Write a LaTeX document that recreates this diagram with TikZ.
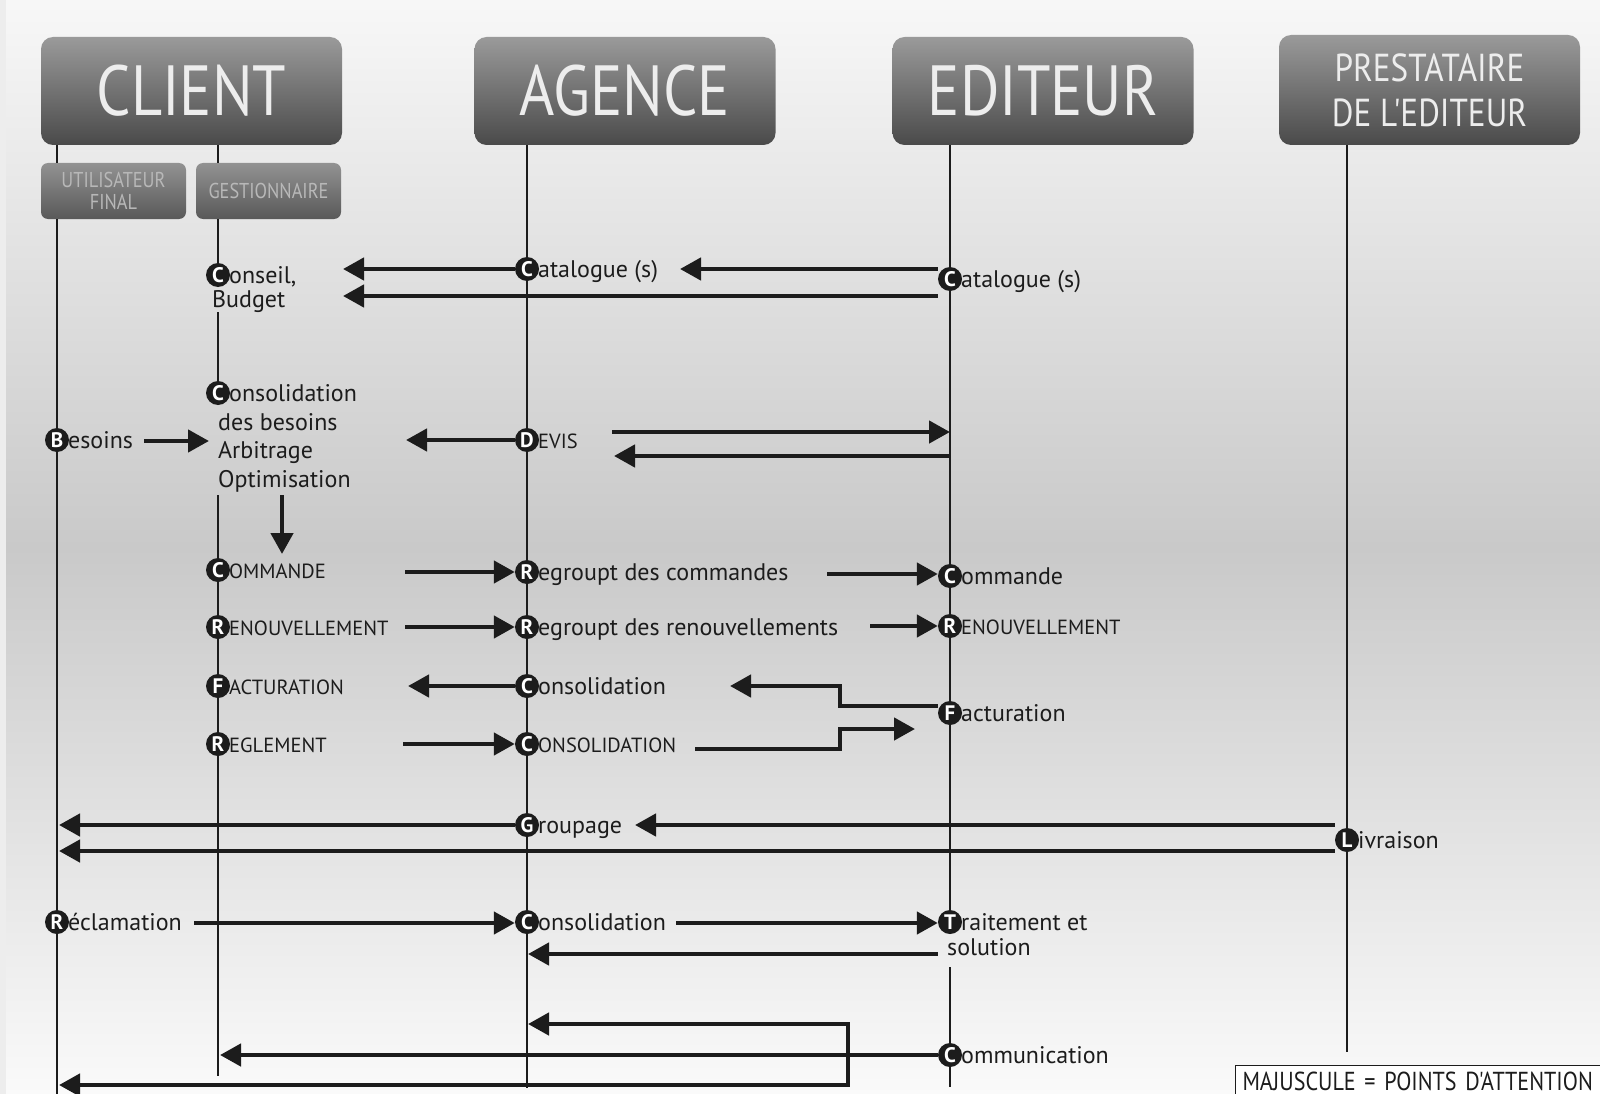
\documentclass[tikz,border=0pt]{standalone}
\usepackage{fontspec}
\setmainfont{PT Sans}
\newfontfamily\narrowfont[FakeStretch=0.85]{PT Sans}
\usetikzlibrary{calc,positioning,arrows.meta}

\definecolor{ink}{HTML}{1C1C1C}
\definecolor{boxtop}{HTML}{9A9A9A}
\definecolor{boxbot}{HTML}{4A4A4A}
\definecolor{bgmid}{HTML}{C9C9C9}

\tikzset{
  actor/.style={rounded corners=12pt, top color=boxtop, bottom color=boxbot,
    text=white!93!black, minimum width=301pt, minimum height=108pt,
    inner sep=0pt, align=center},
  role/.style={rounded corners=7pt, top color=boxtop!95!black, bottom color=boxbot!92!white,
    text=white!72!black, minimum width=145pt, minimum height=56pt,
    inner sep=0pt, align=center, font=\narrowfont\fontsize{21.5}{22}\selectfont},
  life/.style={draw=ink, line width=1.4pt},
  msg/.style={draw=ink, line width=4.5pt, >={Triangle[length=21pt,width=22pt]}, ->},
  dot/.style={circle, fill=ink, text=white, inner sep=0pt, minimum size=24pt,
    font=\bfseries\fontsize{21}{21}\selectfont},
  lbl/.style={anchor=base west, inner sep=0pt, text=ink,
    font=\fontsize{24}{28}\selectfont},
  caps/.style={lbl, font=\fontsize{20.5}{24}\selectfont},
  note/.style={draw=ink, line width=1pt, fill=white, anchor=north west,
    inner xsep=7pt, inner ysep=6pt, text height=19pt, text depth=12pt, text=ink,
    align=left, text width=386pt,
    font=\narrowfont\fontsize{26}{26}\selectfont}
}

% style, name, x, y, letter, rest of the word
\newcommand{\ev}[6]{%
  \node[dot] (#2) at (#3,#4) {#5};
  \node[#1] (#2l) at ($(#2)+(11,8)$) {#6};}

\begin{document}
\begin{tikzpicture}[x=1pt,y=-1pt]
\useasboundingbox (0,0) rectangle (1600,1094);
\clip (0,0) rectangle (1600,1094);
% background
\shade[top color=white!97!black, bottom color=white!98!black, middle color=bgmid]
  (0,0) rectangle (1600,1094);
\fill[white!93!black] (0,0) rectangle (6,1094);

% actors
\node[actor, font=\narrowfont\fontsize{71}{71}\selectfont] (client) at (191.5,91) {CLIENT};
\node[actor, font=\narrowfont\fontsize{71}{71}\selectfont] (agence) at (625,91) {AGENCE};
\node[actor, font=\narrowfont\fontsize{71}{71}\selectfont] (editeur) at (1043,91) {EDITEUR};
\node[actor, font=\narrowfont\fontsize{39}{45}\selectfont, minimum height=110pt]
  (presta) at (1429.5,90) {PRESTATAIRE\\DE L'EDITEUR};
\node[role] (final) at (113.5,191) {UTILISATEUR\\FINAL};
\node[role] (gest) at (268.5,191) {GESTIONNAIRE};

% lifelines
\draw[life] (57,145) -- (57,163) (57,219) -- (57,1094);
\draw[life] (218,145) -- (218,163) (218,219) -- (218,275) (218,312) -- (218,393)
  (218,495) -- (218,1076);
\draw[life] (527,145) -- (527,1088);
\draw[life] (950,145) -- (950,930) (950,967) -- (950,1087);
\draw[life] (1347,145) -- (1347,1052);

% events
\ev{lbl}{g1}{218}{275}{C}{onseil,}
\node[lbl] (g1b) at (212,307) {Budget};
\ev{lbl}{a1}{527}{269}{C}{atalogue (s)}
\ev{lbl}{e1}{950}{279}{C}{atalogue (s)}
\ev{lbl}{g2}{218}{393}{C}{onsolidation}
\node[lbl] (g2b) at (218,430) {des besoins};
\node[lbl] (g2c) at (218,458) {Arbitrage};
\node[lbl] (g2d) at (218,487) {Optimisation};
\ev{lbl}{u1}{57}{440}{B}{esoins}
\ev{caps}{a2}{527}{440}{D}{EVIS}
\ev{caps}{g3}{218}{570}{C}{OMMANDE}
\ev{lbl}{a3}{527}{572}{R}{egroupt des commandes}
\ev{lbl}{e3}{950}{576}{C}{ommande}
\ev{caps}{g4}{218}{627}{R}{ENOUVELLEMENT}
\ev{lbl}{a4}{527}{627}{R}{egroupt des renouvellements}
\ev{caps}{e4}{950}{626}{R}{ENOUVELLEMENT}
\ev{caps}{g5}{218}{686}{F}{ACTURATION}
\ev{lbl}{a5}{527}{686}{C}{onsolidation}
\ev{lbl}{e5}{950}{713}{F}{acturation}
\ev{caps}{g6}{218}{744}{R}{EGLEMENT}
\ev{caps}{a6}{527}{744}{C}{ONSOLIDATION}
\ev{lbl}{a7}{527}{825}{G}{roupage}
\ev{lbl}{p7}{1347}{840}{L}{ivraison}
\ev{lbl}{u8}{57}{922}{R}{éclamation}
\ev{lbl}{a8}{527}{922}{C}{onsolidation}
\ev{lbl}{e8}{950}{922}{T}{raitement et}
\node[lbl] (e8b) at (947,955) {solution};
\ev{lbl}{e9}{950}{1055}{C}{ommunication}

% free ends of the messages
\coordinate (cat1) at (680,269);
\coordinate (cat2) at (343,269);
\coordinate (cat3) at (343,296);
\coordinate (bes1) at (144,441);
\coordinate (bes2) at (209,441);
\coordinate (dev1) at (406,440);
\coordinate (dev2) at (612,432);
\coordinate (dev3) at (614,456);
\coordinate (opt1) at (282,495);
\coordinate (opt2) at (282,554);
\coordinate (cmd1) at (405,572);
\coordinate (cmd2) at (827,574);
\coordinate (ren1) at (405,627);
\coordinate (ren2) at (870,626);
\coordinate (fac1) at (408,686);
\coordinate (fac3) at (730,686);
\coordinate (kink1) at (840,706);
\coordinate (reg1) at (403,744);
\coordinate (reg2) at (695,749);
\coordinate (kink2) at (840,749);
\coordinate (reg3) at (915,729);
\coordinate (grp1) at (635,825);
\coordinate (grp2) at (59,825);
\coordinate (grp3) at (59,851);
\coordinate (rec1) at (194,923);
\coordinate (rec2) at (676,923);
\coordinate (rec3) at (528,954);
\coordinate (com1) at (528,1024);
\coordinate (com2) at (848,1024);
\coordinate (com3) at (59,1085);
\coordinate (com4) at (220,1055);

% messages
\draw[msg] (e1.west |- a1) -- (cat1);
\draw[msg] (a1) -- (cat2);
\draw[msg] (e1.west |- cat3) -- (cat3);
\draw[msg] (bes1) -- (bes2);
\draw[msg] (a2) -- (dev1);
\draw[msg] (dev2) -- (dev2 -| e1);
\draw[msg] (dev3 -| e1) -- (dev3);
\draw[msg] (opt1) -- (opt2);
\draw[msg] (cmd1) -- (cmd1 -| a3.west);
\draw[msg] (cmd2) -- (cmd2 -| e3.west);
\draw[msg] (ren1) -- (ren1 -| a4.west);
\draw[msg] (ren2) -- (ren2 -| e4.west);
\draw[msg] (a5) -- (fac1);
\draw[msg] (e5.west |- kink1) -- (kink1) |- (fac3);
\draw[msg] (reg1) -- (reg1 -| a6.west);
\draw[msg] (reg2) -- (kink2) |- (reg3);
\draw[msg] (p7.west |- a7) -- (grp1);
\draw[msg] (a7) -- (grp2);
\draw[msg] (p7.west |- grp3) -- (grp3);
\draw[msg] (rec1) -- (rec1 -| a8.west);
\draw[msg] (rec2) -- (rec2 -| e8.west);
\draw[msg] (e8.west |- rec3) -- (rec3);
\draw[msg,<->] (com1) -- (com2) |- (com3);
\draw[msg] (e9) -- (com4);

% legend
\node[note] (legend) at (1235,1065) {MAJUSCULE = POINTS D'ATTENTION};
\end{tikzpicture}
\end{document}
